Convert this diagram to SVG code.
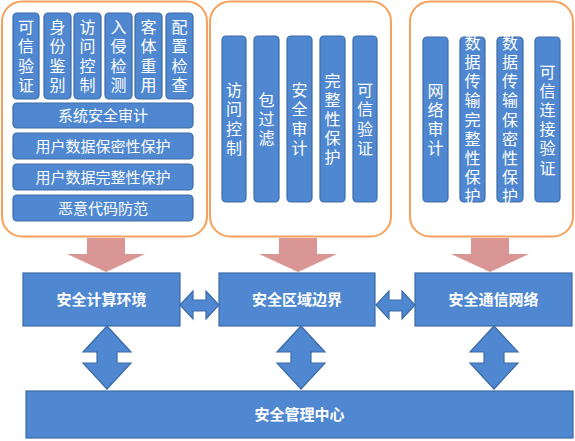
<svg xmlns="http://www.w3.org/2000/svg" width="575" height="441" viewBox="0 0 575 441">
<style>
.cont{fill:#ffffff;stroke:#F6A15B;stroke-width:2}
.bar{fill:#4F88D1;stroke:#3D6BA6;stroke-width:1.2}
.box{fill:#4F88D1;stroke:#3D6BA6;stroke-width:1.2}
.t{fill:#ffffff;font-family:"Noto Sans CJK SC","Noto Sans",sans-serif;text-anchor:middle}
.v{font-size:16px;writing-mode:vertical-rl;letter-spacing:3.2px}
.h{font-size:15px}
.m{font-size:15px;font-weight:bold}
.pink{fill:#D99694}
.dbl{fill:#4F88D1;stroke:#3D6BA6;stroke-width:1.2}
</style>
<rect width="575" height="441" fill="#ffffff"/>

<g id="container-compute">
<rect class="cont" x="2" y="1.5" width="205" height="235" rx="20"/>
<rect class="bar" x="13" y="13" width="26" height="86" rx="4"/>
<rect class="bar" x="44" y="13" width="27" height="86" rx="4"/>
<rect class="bar" x="74" y="13" width="27" height="86" rx="4"/>
<rect class="bar" x="105" y="13" width="27" height="86" rx="4"/>
<rect class="bar" x="135" y="13" width="27" height="86" rx="4"/>
<rect class="bar" x="166" y="13" width="27" height="86" rx="4"/>
<text class="t v" x="26" y="57.6">可信验证</text>
<text class="t v" x="57.5" y="57.6">身份鉴别</text>
<text class="t v" x="87.5" y="57.6">访问控制</text>
<text class="t v" x="118.5" y="57.6">入侵检测</text>
<text class="t v" x="148.5" y="57.6">客体重用</text>
<text class="t v" x="179.5" y="57.6">配置检查</text>
<rect class="bar" x="13" y="103" width="180" height="25" rx="4"/>
<rect class="bar" x="13" y="133" width="180" height="26" rx="4"/>
<rect class="bar" x="13" y="164" width="180" height="26" rx="4"/>
<rect class="bar" x="13" y="195" width="180" height="26" rx="4"/>
<text class="t h" x="103" y="121.2">系统安全审计</text>
<text class="t h" x="103" y="151.7">用户数据保密性保护</text>
<text class="t h" x="103" y="182.7">用户数据完整性保护</text>
<text class="t h" x="103" y="213.7">恶意代码防范</text>
</g>

<g id="container-boundary">
<rect class="cont" x="210" y="1.5" width="181" height="235" rx="20"/>
<rect class="bar" x="222" y="36" width="24" height="166" rx="4"/>
<rect class="bar" x="254" y="36" width="25" height="166" rx="4"/>
<rect class="bar" x="287" y="36" width="25" height="166" rx="4"/>
<rect class="bar" x="320" y="36" width="25" height="166" rx="4"/>
<rect class="bar" x="353" y="36" width="24" height="166" rx="4"/>
<text class="t v" x="234" y="120.6">访问控制</text>
<text class="t v" x="266.5" y="120.6">包过滤</text>
<text class="t v" x="299.5" y="120.6">安全审计</text>
<text class="t v" x="332.5" y="120.6">完整性保护</text>
<text class="t v" x="365" y="120.6">可信验证</text>
</g>

<g id="container-network">
<rect class="cont" x="410" y="1.5" width="163" height="235" rx="20"/>
<rect class="bar" x="423" y="37" width="25" height="165" rx="4"/>
<rect class="bar" x="460" y="37" width="25" height="165" rx="4"/>
<rect class="bar" x="497" y="37" width="26" height="165" rx="4"/>
<rect class="bar" x="535" y="37" width="25" height="165" rx="4"/>
<text class="t v" x="435.5" y="121.1">网络审计</text>
<text class="t v" x="472.5" y="121.1">数据传输完整性保护</text>
<text class="t v" x="510" y="121.1">数据传输保密性保护</text>
<text class="t v" x="547.5" y="121.1">可信连接验证</text>
</g>

<g id="node-compute">
<rect class="box" x="23" y="273" width="157" height="53"/>
<text class="t m" x="101.5" y="305">安全计算环境</text>
</g>
<g id="node-boundary">
<rect class="box" x="219" y="273" width="156" height="53"/>
<text class="t m" x="297" y="305">安全区域边界</text>
</g>
<g id="node-network">
<rect class="box" x="415" y="273" width="157" height="53"/>
<text class="t m" x="493.5" y="305">安全通信网络</text>
</g>
<g id="node-management">
<rect class="box" x="26" y="391" width="547" height="47"/>
<text class="t m" x="299.5" y="420">安全管理中心</text>
</g>

<g id="connectors">
<polygon class="pink" points="87,238 125,238 125,254 145,254 106,272 67,254 87,254"/>
<polygon class="pink" points="279,238 317,238 317,254 337,254 298,272 259,254 279,254"/>
<polygon class="pink" points="471,238 509,238 509,254 529,254 490,272 451,254 471,254"/>
<polygon class="dbl" points="180,305 193,291 193,300 206,300 206,291 219,305 206,319 206,311 193,311 193,319"/>
<polygon class="dbl" points="376,305 389,291 389,300 402,300 402,291 415,305 402,319 402,311 389,311 389,319"/>
<polygon class="dbl" points="107,326 131,352 117,352 117,363 131,363 107,389 83,363 97,363 97,352 83,352"/>
<polygon class="dbl" points="301,326 325,352 311,352 311,363 325,363 301,389 277,363 291,363 291,352 277,352"/>
<polygon class="dbl" points="494,326 518,352 504,352 504,363 518,363 494,389 470,363 484,363 484,352 470,352"/>
</g>
</svg>
